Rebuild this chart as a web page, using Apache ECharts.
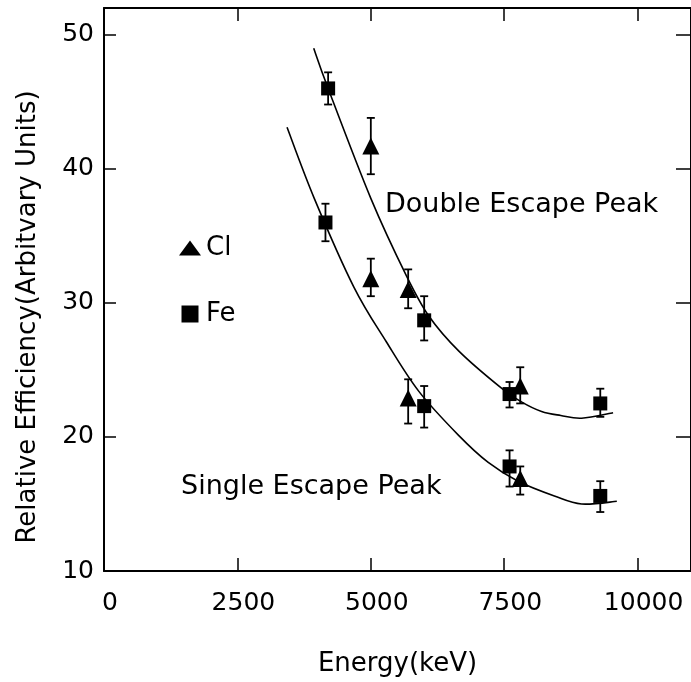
<!DOCTYPE html>
<html><head><meta charset="utf-8">
<script src="https://cdn.jsdelivr.net/npm/echarts@6/dist/echarts.min.js"></script>
<style>html,body{margin:0;padding:0;background:#fff}#c{width:691px;height:682px}</style>
</head><body><div id="c"></div>
<script>
// ---- data ----
const xTicks = [0, 2500, 5000, 7500, 10000];
const yTicks = [10, 20, 30, 40, 50];

// Double escape peak
const deClE = [5000, 5700, 7800];
const deClV = [41.7, 31.0, 23.8];
const deClLo = [39.6, 29.6, 22.5];
const deClHi = [43.8, 32.5, 25.2];
const deFeE = [4200, 6000, 7600, 9300];
const deFeV = [46.0, 28.7, 23.2, 22.5];
const deFeLo = [44.8, 27.2, 22.2, 21.5];
const deFeHi = [47.2, 30.5, 24.1, 23.6];
const deFitE = [3930, 4200, 5000, 5670, 6090, 6650, 7460, 7830, 8200, 8560, 8950, 9540];
const deFitV = [49.0, 46.0, 37.8, 32.0, 29.0, 26.4, 23.6, 22.6, 21.9, 21.6, 21.4, 21.8];

// Single escape peak
const seClE = [5000, 5700, 7800];
const seClV = [31.8, 22.9, 16.9];
const seClLo = [30.5, 21.0, 15.7];
const seClHi = [33.3, 24.3, 17.8];
const seFeE = [4150, 6000, 7600, 9300];
const seFeV = [36.0, 22.3, 17.8, 15.6];
const seFeLo = [34.6, 20.7, 16.3, 14.4];
const seFeHi = [37.4, 23.8, 19.0, 16.7];
const seFitE = [3430, 3940, 4680, 5290, 5900, 6650, 7200, 7760, 8440, 8950, 9610];
const seFitV = [43.1, 37.8, 31.2, 27.1, 23.4, 20.1, 18.1, 16.7, 15.6, 15.0, 15.2];

const FONT = 'DejaVu Sans';
const zip = (a, b) => a.map((v, i) => [v, b[i]]);
const zip3 = (a, b, c) => a.map((v, i) => [v, b[i], c[i]]);

function errSeries(E, Lo, Hi) {
  return {
    type: 'custom', silent: true, z: 3,
    renderItem: function (params, api) {
      const x = api.value(0);
      const lo = api.coord([x, api.value(1)]);
      const hi = api.coord([x, api.value(2)]);
      const w = 4;
      const st = { stroke: '#000', lineWidth: 1.8 };
      return { type: 'group', children: [
        { type: 'line', shape: { x1: lo[0], y1: lo[1], x2: hi[0], y2: hi[1] }, style: st },
        { type: 'line', shape: { x1: lo[0] - w, y1: lo[1], x2: lo[0] + w, y2: lo[1] }, style: st },
        { type: 'line', shape: { x1: hi[0] - w, y1: hi[1], x2: hi[0] + w, y2: hi[1] }, style: st }
      ]};
    },
    encode: { x: 0, y: [1, 2] },
    data: zip3(E, Lo, Hi)
  };
}
function pts(name, E, V, sym, size) {
  return { name: name, type: 'scatter', symbol: sym, symbolSize: size, z: 4,
    itemStyle: { color: '#000', opacity: 1 }, data: zip(E, V) };
}
// smooth fitted curve through the read points (Catmull-Rom in pixel space)
function fit(E, V) {
  return {
    type: 'custom', silent: true, z: 2,
    encode: { x: 0, y: 1 },
    data: zip(E, V),
    renderItem: function (params, api) {
      if (params.dataIndex !== 0) return null;
      const P = E.map((e, i) => api.coord([e, V[i]]));
      let d = 'M' + P[0][0] + ',' + P[0][1];
      for (let i = 0; i < P.length - 1; i++) {
        const p0 = P[Math.max(0, i - 1)], p1 = P[i], p2 = P[i + 1], p3 = P[Math.min(P.length - 1, i + 2)];
        const c1 = [p1[0] + (p2[0] - p0[0]) / 6, p1[1] + (p2[1] - p0[1]) / 6];
        const c2 = [p2[0] - (p3[0] - p1[0]) / 6, p2[1] - (p3[1] - p1[1]) / 6];
        d += ' C' + c1[0] + ',' + c1[1] + ' ' + c2[0] + ',' + c2[1] + ' ' + p2[0] + ',' + p2[1];
      }
      return { type: 'path', shape: { pathData: d }, style: { stroke: '#000', lineWidth: 1.6, fill: null } };
    }
  };
}

const TRI = 'path://M11,0 L22,15 L0,15 Z';
const SQ = 'path://M0,0 L16,0 L16,16 L0,16 Z';

const chart = echarts.init(document.getElementById('c'));
const axLine = { onZero: false, lineStyle: { color: '#000', width: 2 } };
const tickStyle = { color: '#000', width: 1.5 };
chart.setOption({
  animation: false,
  backgroundColor: '#fff',
  textStyle: { fontFamily: FONT, color: '#000' },
  grid: { left: 104, top: 8, bottom: 110, right: -8 },
  legend: {
    orient: 'vertical', left: 174, top: 230, itemGap: 40, itemWidth: 22, itemHeight: 17,
    symbolKeepAspect: true,
    textStyle: { fontFamily: FONT, fontSize: 26, color: '#000' },
    itemStyle: { opacity: 1 },
    data: [{ name: 'Cl', icon: TRI }, { name: 'Fe', icon: SQ }]
  },
  xAxis: [{
    type: 'value', min: 0, max: 11000, interval: 2500,
    name: 'Energy(keV)', nameLocation: 'middle', nameGap: 80,
    nameTextStyle: { fontFamily: FONT, fontSize: 26, color: '#000' },
    axisLine: axLine, axisTick: { inside: true, length: 13, lineStyle: tickStyle },
    axisLabel: { fontFamily: FONT, fontSize: 25, color: '#000', margin: 20, showMaxLabel: false,
      padding: [0, 0, 0, 12], formatter: v => String(v) },
    splitLine: { show: false }
  }, {
    type: 'value', position: 'top', min: 0, max: 11000, interval: 2500,
    axisLine: axLine, axisTick: { inside: true, length: 13, lineStyle: tickStyle },
    axisLabel: { show: false }, splitLine: { show: false }
  }],
  yAxis: [{
    type: 'value', min: 10, max: 52, interval: 10,
    axisLine: axLine, axisTick: { inside: true, length: 12, lineStyle: tickStyle },
    axisLabel: { fontFamily: FONT, fontSize: 25, color: '#000', margin: 10, showMaxLabel: false },
    splitLine: { show: false }
  }, {
    type: 'value', position: 'right', min: 10, max: 52, interval: 10,
    axisLine: axLine, axisTick: { inside: true, length: 15, lineStyle: tickStyle },
    axisLabel: { show: false }, splitLine: { show: false }
  }],
  graphic: [
    { type: 'text', x: 28, y: 317, rotation: Math.PI / 2,
      style: { text: 'Relative Efficiency(Arbitvary Units)', font: '26px "DejaVu Sans"', fill: '#000',
        align: 'center', verticalAlign: 'middle' } },
    { type: 'text', left: 385, top: 191, style: { text: 'Double Escape Peak', font: '27px "DejaVu Sans"', fill: '#000' } },
    { type: 'text', left: 181, top: 473, style: { text: 'Single Escape Peak', font: '27px "DejaVu Sans"', fill: '#000' } }
  ],
  series: [
    fit(deFitE, deFitV), fit(seFitE, seFitV),
    errSeries(deClE, deClLo, deClHi), errSeries(deFeE, deFeLo, deFeHi),
    errSeries(seClE, seClLo, seClHi), errSeries(seFeE, seFeLo, seFeHi),
    pts('Cl', deClE, deClV, 'triangle', 17), pts('Fe', deFeE, deFeV, 'rect', 14),
    pts('Cl', seClE, seClV, 'triangle', 17), pts('Fe', seFeE, seFeV, 'rect', 14)
  ]
});
</script></body></html>
